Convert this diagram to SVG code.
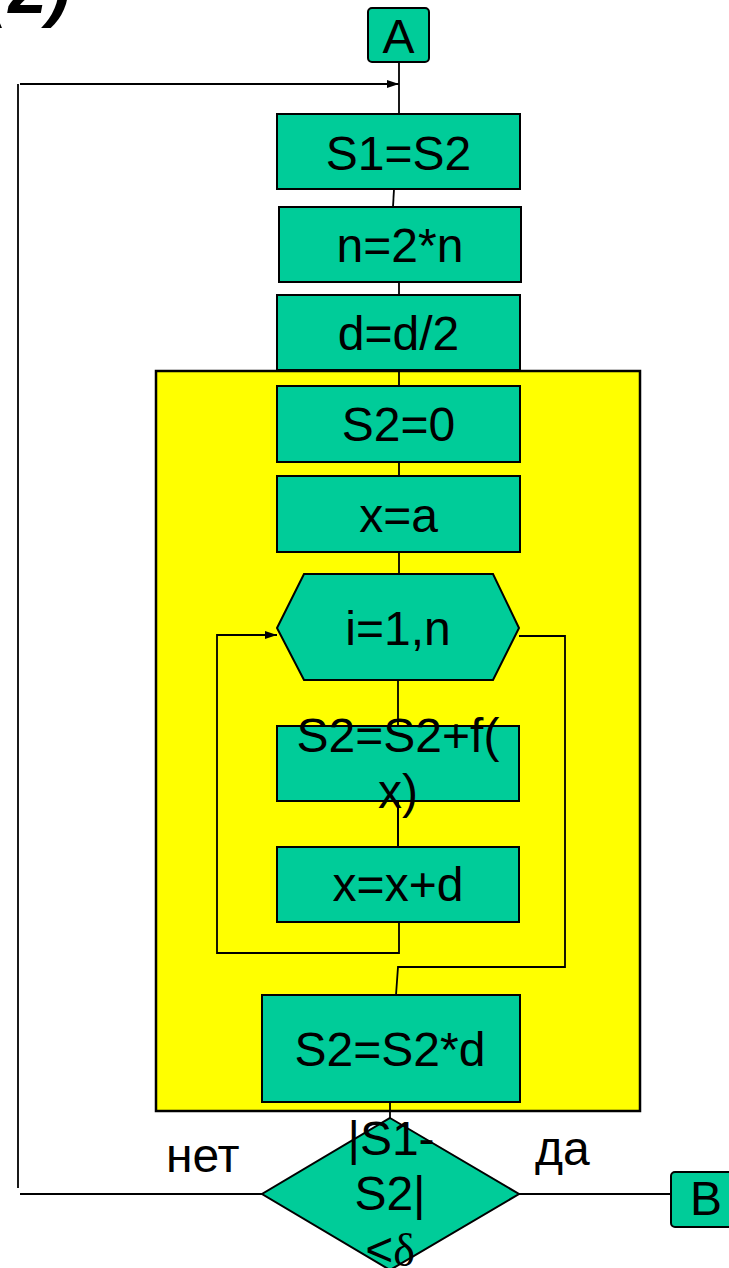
<svg xmlns="http://www.w3.org/2000/svg" width="729" height="1268" viewBox="0 0 729 1268">
  <style>
    .box { fill: #00CC99; stroke: #000; stroke-width: 2; }
    .term { fill: #00CC99; stroke: #000; stroke-width: 2; }
    .t { font-family: "Liberation Sans", Arial, sans-serif; font-size: 48px; fill: #000; text-anchor: middle; }
    .lbl { font-family: "Liberation Sans", Arial, sans-serif; font-size: 48px; fill: #000; }
    .c { fill: none; stroke: #000; stroke-width: 1.8; }
  </style>
  <defs>
    <marker id="arr" markerWidth="12" markerHeight="8" refX="12" refY="4" orient="auto" markerUnits="userSpaceOnUse">
      <path d="M0,0 L12,4 L0,8 Z" fill="#000"/>
    </marker>
  </defs>
  <rect width="729" height="1268" fill="#fff"/>

  <text x="-15" y="13" font-family="Liberation Sans, Arial, sans-serif" font-size="70" font-weight="bold" font-style="italic" fill="#000">(2)</text>

  <g id="cycle-region">
    <rect x="156" y="371" width="484" height="740" fill="#FFFF00" stroke="#000" stroke-width="2.5"/>
  </g>

  <g id="connectors">
    <path class="c" d="M399,62 V114"/>
    <path class="c" d="M18,1188 V84"/>
    <path class="c" d="M20,84 H399" marker-end="url(#arr)"/>
    <path class="c" d="M20,1194 H262"/>
    <path class="c" d="M394,189 L393,207"/>
    <path class="c" d="M399,282 V295"/>
    <path class="c" d="M399,370 V386"/>
    <path class="c" d="M399,462 V476"/>
    <path class="c" d="M399,552 V574"/>
    <path class="c" d="M398,680 V847"/>
    <path class="c" d="M399,922 V953 H217 V635 H277" marker-end="url(#arr)"/>
    <path class="c" d="M519,636 H565 V967 H398 L396,995"/>
    <path class="c" d="M390,1102 V1118"/>
    <path class="c" d="M519,1194 H671"/>
  </g>

  <g id="node-A">
    <rect class="term" x="368" y="8" width="61" height="54" rx="4"/>
    <text class="t" x="398.5" y="53">A</text>
  </g>
  <g id="node-s1s2">
    <rect class="box" x="277" y="114" width="243" height="75"/>
    <text class="t" x="398.5" y="170">S1=S2</text>
  </g>
  <g id="node-n2n">
    <rect class="box" x="279" y="207" width="242" height="75"/>
    <text class="t" x="400" y="262">n=2*n</text>
  </g>
  <g id="node-dd2">
    <rect class="box" x="277" y="295" width="243" height="75"/>
    <text class="t" x="398.5" y="350">d=d/2</text>
  </g>
  <g id="node-s20">
    <rect class="box" x="277" y="386" width="243" height="76"/>
    <text class="t" x="398.5" y="441">S2=0</text>
  </g>
  <g id="node-xa">
    <rect class="box" x="277" y="476" width="243" height="76"/>
    <text class="t" x="398.5" y="532">x=a</text>
  </g>
  <g id="node-loop">
    <polygon class="box" points="277,628 304,574 493,574 519,628 493,680 304,680"/>
    <text class="t" x="398" y="645">i=1,n</text>
  </g>
  <g id="node-sum">
    <rect class="box" x="277" y="726" width="242" height="75"/>
    <path class="c" d="M398,801 V847"/>
    <text class="t" x="398" y="752">S2=S2+f(</text>
    <text class="t" x="398" y="808">x)</text>
  </g>
  <g id="node-xxd">
    <rect class="box" x="277" y="847" width="242" height="75"/>
    <text class="t" x="398" y="901">x=x+d</text>
  </g>
  <g id="node-s2d">
    <rect class="box" x="262" y="995" width="258" height="107"/>
    <text class="t" x="390" y="1066">S2=S2*d</text>
  </g>
  <g id="node-cond">
    <polygon class="box" points="390,1118 519,1194 390,1270 262,1194"/>
    <text class="t" x="391" y="1155">|S1-</text>
    <text class="t" x="390" y="1210">S2|</text>
    <text class="t" x="390" y="1266">&lt;<tspan font-family="Liberation Serif, Times New Roman, serif" font-size="46">δ</tspan></text>
  </g>
  <g id="label-no">
    <text class="lbl" x="166" y="1172">нет</text>
  </g>
  <g id="label-yes">
    <text class="lbl" x="535" y="1165">да</text>
  </g>
  <g id="node-B">
    <rect class="term" x="671" y="1172" width="61" height="55" rx="4"/>
    <text class="t" x="706" y="1215">B</text>
  </g>
</svg>
